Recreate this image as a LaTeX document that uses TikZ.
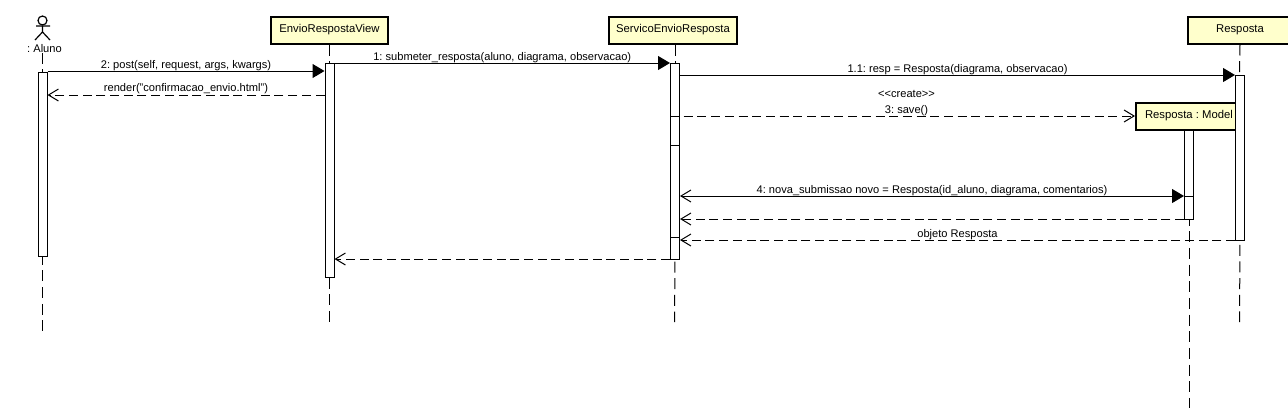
\documentclass[tikz,border=0pt]{standalone}
\usepackage{fontspec}
\setmainfont{Liberation Sans}
\usetikzlibrary{arrows.meta}
\definecolor{boxfill}{HTML}{FFFFCC}
\AtBeginDocument{\frenchspacing}
\tikzset{
  x=1pt,y=-1pt,
  objbox/.style={draw=black,line width=2pt,fill=boxfill,minimum height=27pt,inner sep=0pt,font=\fontsize{11.3}{13}\selectfont},
  actbar/.style={draw=black,line width=1pt,fill=white,minimum width=9pt,inner sep=0pt},
  lifeline/.style={draw=black,line width=1pt,dash pattern=on 11pt off 5.67pt},
  msgtext/.style={inner sep=0pt,font=\fontsize{11.1}{12}\selectfont},
  callmsg/.style={draw=black,line width=1pt,-{Triangle[length=12pt,width=14pt]}},
  retmsg/.style={draw=black,line width=1pt,dash pattern=on 9pt off 4.7pt,-{Straight Barb[length=10pt,width=12pt]}},
  plainline/.style={draw=black,line width=1pt}
}
\begin{document}
\begin{tikzpicture}
\useasboundingbox (0,0) rectangle (1288,410);
\clip (0,0) rectangle (1288,410);
\fill[white] (0,0) rectangle (1288,410);

% actor
\node[draw=black,line width=1.2pt,circle,minimum size=9pt,inner sep=0pt] (head) at (42.5,20.5) {};
\coordinate (hip) at (42.5,32);
\coordinate (armL) at (36,26);
\coordinate (armR) at (50,26);
\coordinate (legL) at (35,40);
\coordinate (legR) at (50,40);
\draw[line width=1.2pt] (head.south) -- (hip) (armL) -- (armR) (legL) -- (hip) -- (legR);
\node[msgtext] (aluno) at (44.5,48.5) {: Aluno};

% objects
\node[objbox,minimum width=117pt] (view) at (329.5,30) {EnvioRespostaView};
\node[objbox,minimum width=128pt] (serv) at (673,30) {ServicoEnvioResposta};
\node[objbox,minimum width=104pt] (resp) at (1240,30) {Resposta};

% lifeline ends
\coordinate (endA) at (42.5,331);
\coordinate (endV) at (329.5,322);
\coordinate (endS) at (674.5,322);
\coordinate (endR) at (1239.5,322);
\coordinate (endM) at (1189,408);

% activation bars (geometry only)
\node[actbar,minimum height=184pt] (actA) at (42.5,164) {};
\node[actbar,minimum height=214pt] (actV) at (329.5,170) {};
\node[actbar,minimum height=196pt] (actS) at (675,161) {};
\node[actbar,minimum height=90pt] (actM) at (1189,174.5) {};

% lifelines
\draw[lifeline] (aluno.south -| actA.north) -- (actA.north);
\draw[lifeline,dash phase=2.7pt] (actA.south) -- (endA);
\draw[lifeline] (view.south) -- (actV.north);
\draw[lifeline] (actV.south) -- (endV);
\draw[lifeline] (serv.south -| actS.north) -- (actS.north);
\draw[lifeline,dash phase=14.67pt] (actS.south) -- (endS);
\draw[lifeline] (resp.south) -- (1239.5,75);
\draw[lifeline,dash phase=5.4pt] (actM.south) -- (endM);

% created object
\node[objbox,minimum width=100pt] (model) at (1186,116) {\hspace*{6pt}Resposta : Model};
\node[actbar,minimum height=165pt] (actR) at (1240,157.5) {};
\draw[lifeline,dash phase=12.4pt] (actR.south) -- (endR);

% ticks in bars
\draw[plainline] (actS.west |- 0,145) -- (actS.east |- 0,145);
\draw[plainline] (actS.west |- 0,237.5) -- (actS.east |- 0,237.5);
\draw[plainline] (actM.west |- 0,196) -- (actM.east |- 0,196);

% messages
\draw[callmsg] (actA.east |- 0,71) -- node[msgtext,above=0pt] (m2) {2: post(self, request, args, kwargs)} (actV.west |- 0,71);
\draw[retmsg] (actV.west |- 0,95) -- node[msgtext,above=0.5pt] (m2r) {render("confirmacao\_envio.html")} (actA.east |- 0,95);
\draw[callmsg] (actV.east |- 0,63) -- node[msgtext,above=0pt] (m1) {1: submeter\_resposta(aluno, diagrama, observacao)} (actS.west |- 0,63);
\draw[callmsg] (actS.east |- 0,75) -- node[msgtext,above=0pt] (m11) {1.1: resp = Resposta(diagrama, observacao)} (actR.west |- 0,75);
\draw[retmsg] (actS.west |- 0,116) -- node[msgtext,above=0pt,xshift=4pt] (m3) {3: save()} (model.west |- 0,116);
\node[msgtext] (cr) at (906.5,93.5) {<{}<create>{}>};
\draw[callmsg,{Straight Barb[length=10pt,width=12pt]}-{Triangle[length=12pt,width=14pt]}] (actS.east |- 0,196) -- node[msgtext,above=0pt] (m4) {4: nova\_submissao novo = Resposta(id\_aluno, diagrama, comentarios)} (actM.west |- 0,196);
\draw[retmsg] (actM.west |- 0,219) -- (actS.east |- 0,219);
\draw[retmsg] (actR.west |- 0,240) -- node[msgtext,above=0pt] (m5) {objeto Resposta} (actS.east |- 0,240);
\draw[retmsg] (actS.west |- 0,259) -- (actV.east |- 0,259);
\end{tikzpicture}
\end{document}
